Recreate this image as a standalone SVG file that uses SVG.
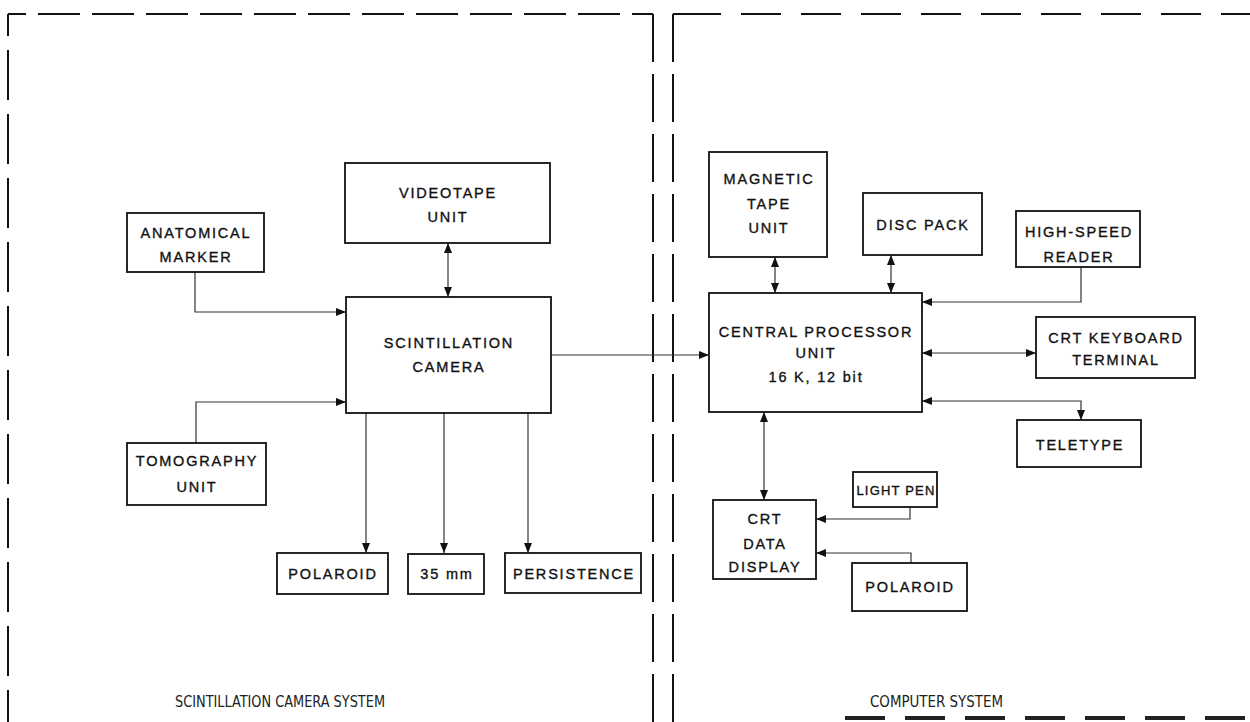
<svg xmlns="http://www.w3.org/2000/svg" width="1250" height="722" viewBox="0 0 1250 722">
<defs>
<marker id="ah" viewBox="0 0 10 8" refX="10" refY="4" markerWidth="10" markerHeight="8" markerUnits="userSpaceOnUse" orient="auto-start-reverse">
<path d="M0,0 L10,4 L0,8 Z" fill="#111"/>
</marker>
<style>
.frame{fill:none;stroke:#111;stroke-width:2}
.box{fill:#fff;stroke:#111;stroke-width:1.8}
.t{font-family:"Liberation Sans",Arial,sans-serif;font-size:14.5px;letter-spacing:1.8px;text-anchor:middle;fill:#111;stroke:#111;stroke-width:0.35}
.lbl{font-family:"DejaVu Sans Condensed","Liberation Sans",sans-serif;font-size:16px;fill:#222}
.c{fill:none;stroke:#333;stroke-width:1.2}
.one{marker-end:url(#ah)}
.two{marker-start:url(#ah);marker-end:url(#ah)}
</style>
</defs>
<rect width="1250" height="722" fill="#fff"/>
<g id="frames">
<line class="frame" x1="8" y1="14" x2="653" y2="14" stroke-dasharray="42 12" stroke-dashoffset="-30"/>
<line class="frame" x1="8" y1="14" x2="8" y2="722" stroke-dasharray="50 14" stroke-dashoffset="28"/>
<line class="frame" x1="653" y1="14" x2="653" y2="722" stroke-dasharray="48 12"/>
<line class="frame" x1="643" y1="14" x2="653" y2="14"/>
<line class="frame" x1="673" y1="14" x2="1250" y2="14" stroke-dasharray="40 20" stroke-dashoffset="-8"/>
<line class="frame" x1="673" y1="14" x2="683" y2="14"/>
<line class="frame" x1="673" y1="14" x2="673" y2="722" stroke-dasharray="48 12"/>
<line x1="845" y1="718" x2="1250" y2="718" stroke="#222" stroke-width="4" stroke-dasharray="40 20"/>
<text class="lbl" x="175" y="707" textLength="210" lengthAdjust="spacingAndGlyphs">SCINTILLATION CAMERA SYSTEM</text>
<text class="lbl" x="870" y="707" textLength="133" lengthAdjust="spacingAndGlyphs">COMPUTER SYSTEM</text>
</g>
<g id="connectors">
<path class="c two" d="M448,243 V297"/>
<path class="c one" d="M195,272 V312 H346"/>
<path class="c one" d="M196,443 V402 H346"/>
<path class="c one" d="M366,413 V553"/>
<path class="c one" d="M444,413 V553"/>
<path class="c one" d="M528,413 V553"/>
<path class="c one" d="M551,355 H709"/>
<path class="c two" d="M775,257 V293"/>
<path class="c two" d="M891,255 V293"/>
<path class="c one" d="M1081,267 V302 H922"/>
<path class="c two" d="M922,353 H1036"/>
<path class="c two" d="M922,401 H1081 V420"/>
<path class="c two" d="M764,412 V500"/>
<path class="c one" d="M910,507 V519 H816"/>
<path class="c one" d="M911,563 V553 H816"/>
</g>
<g id="videotape"><rect class="box" x="345" y="163" width="205" height="80"/><text class="t" x="448" y="198">VIDEOTAPE</text><text class="t" x="448" y="222">UNIT</text></g>
<g id="anatomical"><rect class="box" x="127" y="213" width="137" height="59"/><text class="t" x="196" y="238">ANATOMICAL</text><text class="t" x="196" y="262">MARKER</text></g>
<g id="scintillation"><rect class="box" x="346" y="297" width="205" height="116"/><text class="t" x="449" y="348">SCINTILLATION</text><text class="t" x="449" y="372">CAMERA</text></g>
<g id="tomography"><rect class="box" x="127" y="443" width="139" height="62"/><text class="t" x="197" y="466">TOMOGRAPHY</text><text class="t" x="197" y="492">UNIT</text></g>
<g id="polaroid1"><rect class="box" x="277" y="553" width="111" height="41"/><text class="t" x="333" y="579">POLAROID</text></g>
<g id="mm35"><rect class="box" x="408" y="554" width="76" height="40"/><text class="t" x="447" y="579">35 mm</text></g>
<g id="persistence"><rect class="box" x="505" y="553" width="136" height="40"/><text class="t" x="574" y="579">PERSISTENCE</text></g>
<g id="magtape"><rect class="box" x="709" y="152" width="118" height="105"/><text class="t" x="769" y="184">MAGNETIC</text><text class="t" x="769" y="209">TAPE</text><text class="t" x="769" y="233">UNIT</text></g>
<g id="discpack"><rect class="box" x="863" y="193" width="119" height="62"/><text class="t" x="923" y="230">DISC PACK</text></g>
<g id="hsreader"><rect class="box" x="1016" y="211" width="124" height="56"/><text class="t" x="1079" y="237">HIGH-SPEED</text><text class="t" x="1079" y="262">READER</text></g>
<g id="cpu"><rect class="box" x="709" y="293" width="213" height="119"/><text class="t" x="816" y="337">CENTRAL PROCESSOR</text><text class="t" x="816" y="358">UNIT</text><text class="t" x="816" y="382">16 K, 12 bit</text></g>
<g id="crtkeyboard"><rect class="box" x="1036" y="317" width="159" height="61"/><text class="t" x="1116" y="343">CRT KEYBOARD</text><text class="t" x="1116" y="365">TERMINAL</text></g>
<g id="teletype"><rect class="box" x="1017" y="420" width="124" height="47"/><text class="t" x="1080" y="450">TELETYPE</text></g>
<g id="crtdata"><rect class="box" x="713" y="500" width="103" height="79"/><text class="t" x="765" y="524">CRT</text><text class="t" x="765" y="549">DATA</text><text class="t" x="765" y="572">DISPLAY</text></g>
<g id="lightpen"><rect class="box" x="853" y="472" width="84" height="35"/><text class="t" x="896" y="495" style="font-size:13px;letter-spacing:1.2px">LIGHT PEN</text></g>
<g id="polaroid2"><rect class="box" x="852" y="563" width="115" height="48"/><text class="t" x="910" y="592">POLAROID</text></g>
</svg>
